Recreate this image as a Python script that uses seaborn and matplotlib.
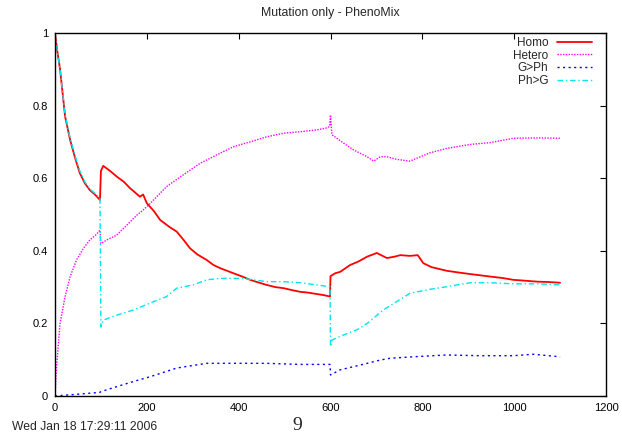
import matplotlib
matplotlib.use("Agg")
import matplotlib.pyplot as plt
import seaborn as sns
import pandas as pd

# ---- data ----
homo_x = [0, 5, 11, 22, 33, 44, 54, 65, 76, 87, 98, 100, 105, 120, 135, 150, 163, 175, 185, 192,
          200, 215, 229, 250, 265, 280, 294, 310, 330, 345, 360, 389, 410, 425, 445, 461, 480, 498,
          515, 534, 550, 570, 585, 599, 600, 610, 621, 643, 660, 680, 701, 715, 723, 740, 752, 773,
          790, 802, 820, 853, 880, 904, 948, 975, 998, 1020, 1050, 1075, 1100]
homo_y = [1.0, 0.95, 0.90, 0.77, 0.705, 0.655, 0.614, 0.586, 0.567, 0.555, 0.54, 0.62, 0.634, 0.62,
          0.604, 0.59, 0.573, 0.56, 0.549, 0.555, 0.531, 0.51, 0.485, 0.465, 0.453, 0.43, 0.407,
          0.39, 0.375, 0.361, 0.352, 0.338, 0.328, 0.32, 0.312, 0.306, 0.30, 0.297, 0.292, 0.287,
          0.285, 0.281, 0.278, 0.274, 0.33, 0.338, 0.342, 0.361, 0.37, 0.384, 0.394, 0.385, 0.38,
          0.384, 0.388, 0.386, 0.388, 0.366, 0.355, 0.345, 0.34, 0.336, 0.329, 0.325, 0.32, 0.318,
          0.315, 0.314, 0.312]

hetero_x = [0, 2, 4, 11, 22, 33, 47, 62, 76, 90, 98, 100, 113, 134, 156, 178, 190, 207, 243, 279,
            316, 338, 352, 389, 425, 461, 498, 534, 570, 590, 598, 600, 603, 628, 650, 680, 694,
            708, 723, 744, 773, 788, 817, 853, 904, 948, 998, 1050, 1100]
hetero_y = [0.0, 0.05, 0.09, 0.2, 0.274, 0.329, 0.375, 0.407, 0.43, 0.445, 0.457, 0.42, 0.43,
            0.443, 0.47, 0.498, 0.51, 0.53, 0.577, 0.609, 0.641, 0.655, 0.664, 0.687, 0.70, 0.714,
            0.724, 0.728, 0.733, 0.738, 0.742, 0.774, 0.72, 0.697, 0.678, 0.659, 0.647, 0.659,
            0.659, 0.652, 0.647, 0.655, 0.67, 0.682, 0.693, 0.698, 0.71, 0.711, 0.71]

gph_x = [0, 50, 98, 100, 135, 171, 207, 265, 330, 359, 461, 534, 599, 600, 621, 680, 708, 730,
         780, 853, 926, 998, 1042, 1100]
gph_y = [0.0, 0.005, 0.01, 0.012, 0.026, 0.04, 0.053, 0.077, 0.09, 0.09, 0.09, 0.087, 0.087,
         0.058, 0.072, 0.09, 0.099, 0.104, 0.108, 0.113, 0.111, 0.111, 0.115, 0.108]

phg_x = [0, 5, 11, 22, 33, 44, 54, 65, 76, 87, 98, 100, 105, 135, 171, 207, 243, 265, 301, 330,
         359, 410, 461, 498, 534, 570, 599, 600, 603, 628, 657, 680, 715, 744, 773, 817, 853, 904,
         948, 998, 1050, 1100]
phg_y = [1.0, 0.95, 0.90, 0.775, 0.71, 0.66, 0.62, 0.59, 0.57, 0.558, 0.545, 0.19, 0.209, 0.223,
         0.237, 0.256, 0.274, 0.297, 0.306, 0.32, 0.324, 0.324, 0.315, 0.315, 0.312, 0.306, 0.301,
         0.136, 0.154, 0.168, 0.182, 0.2, 0.237, 0.26, 0.283, 0.294, 0.301, 0.312, 0.312, 0.309,
         0.309, 0.306]

series_names = ["Homo", "Hetero", "G>Ph", "Ph>G"]
x_ticks = [0, 200, 400, 600, 800, 1000, 1200]
y_ticks = [0, 0.2, 0.4, 0.6, 0.8, 1]
y_tick_labels = ["0", "0.2", "0.4", "0.6", "0.8", "1"]
title = "Mutation only - PhenoMix"
footer = "Wed Jan 18 17:29:11 2006"
page_number = "9"

# ---- build long-form table ----
frames = []
for name, xs, ys in zip(series_names, [homo_x, hetero_x, gph_x, phg_x],
                        [homo_y, hetero_y, gph_y, phg_y]):
    frames.append(pd.DataFrame({"t": xs, "v": ys, "series": name}))
df = pd.concat(frames, ignore_index=True)

sns.set_style("white")
plt.rcParams["font.family"] = ["Liberation Sans", "DejaVu Sans"]

W, H = 622, 437
fig = plt.figure(figsize=(W / 100, H / 100), dpi=100)
ax = fig.add_axes([55 / W, 41 / H, 551 / W, 363 / H])

palette = {"Homo": "#ff0000", "Hetero": "#ff00ff", "G>Ph": "#0000ff", "Ph>G": "#00e5ee"}
dashes = {"Homo": "", "Hetero": (1, 1), "G>Ph": (1.5, 2.5), "Ph>G": (4, 2, 1, 2)}

sns.lineplot(data=df, x="t", y="v", hue="series", style="series", hue_order=series_names,
             style_order=series_names, palette=palette, dashes=dashes, estimator=None,
             sort=False, linewidth=1.0, ax=ax)
# the red (Homo) trace looks a bit heavier in the reference
for line in ax.get_lines():
    if line.get_label() == "Homo" or line.get_color() == "#ff0000":
        line.set_linewidth(1.3)

ax.set_xlim(0, 1200)
ax.set_ylim(0, 1)
ax.set_xticks(x_ticks)
ax.set_xticklabels([str(t) for t in x_ticks])
ax.set_yticks(y_ticks)
ax.set_yticklabels(y_tick_labels)
ax.set_xlabel("")
ax.set_ylabel("")
ax.tick_params(direction="in", length=4, width=0.8, top=True, right=True,
               labelsize=8, colors="black", pad=5)
for s in ax.spines.values():
    s.set_visible(True)
    s.set_color("black")
    s.set_linewidth(1.0)

handles, labels = ax.get_legend_handles_labels()
leg = ax.legend(handles, labels, loc="upper right", frameon=False, markerfirst=False,
                fontsize=8.5, handlelength=3.0, handletextpad=0.7, labelspacing=0.05,
                borderpad=0, borderaxespad=0,
                bbox_to_anchor=(592 / W, 1 - 37 / H), bbox_transform=fig.transFigure)
for t in leg.get_texts():
    t.set_ha("right")

fig.text(330.5 / W, 1 - 13 / H, title, ha="center", va="center", fontsize=8.8)
fig.text(12 / W, 1 - 427 / H, footer, ha="left", va="center", fontsize=8.7)
fig.text(297 / W, 1 - 425 / H, page_number, ha="center", va="center", fontsize=14,
         family=["Liberation Serif", "DejaVu Serif"])

fig.savefig("out.png", dpi=100)
